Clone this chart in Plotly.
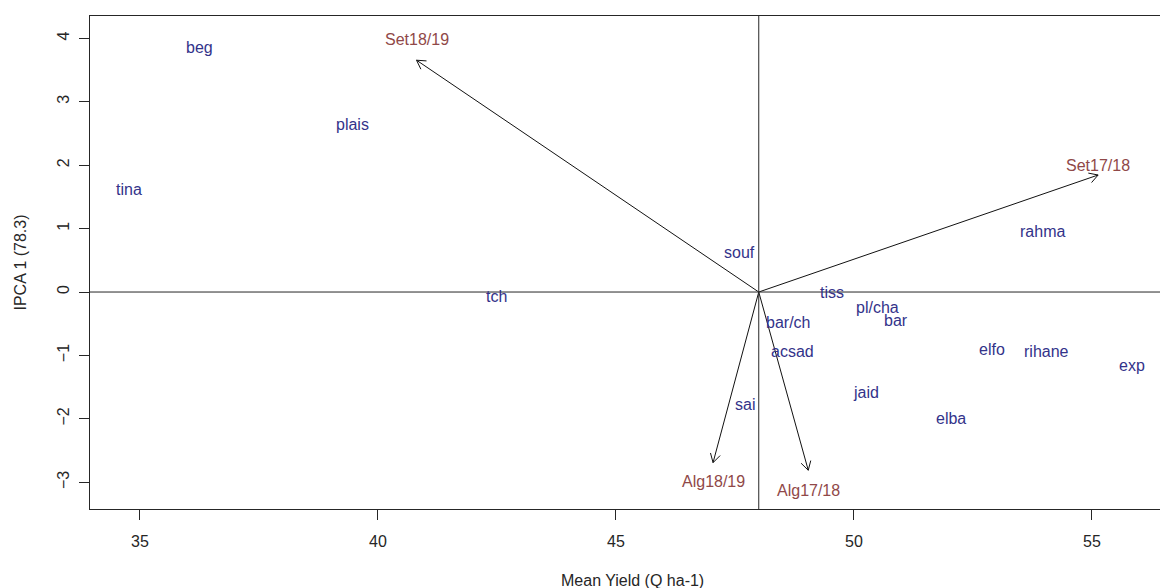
import math
import plotly.graph_objects as go

# Genotypes: mean yield (Q ha-1) and first interaction principal component score
genotypes = ["beg", "plais", "tina", "tch", "souf", "sai", "tiss", "pl/cha", "bar",
             "bar/ch", "acsad", "elfo", "rihane", "exp", "jaid", "elba", "rahma"]
geno_yield = [36.26, 39.47, 34.77, 42.49, 47.59, 47.72, 49.53, 50.49, 50.88,
              48.62, 48.71, 52.89, 54.05, 55.85, 50.25, 52.03, 53.96]
geno_ipca1 = [3.88, 2.67, 1.65, -0.04, 0.65, -1.74, 0.03, -0.22, -0.41,
              -0.45, -0.90, -0.88, -0.90, -1.13, -1.55, -1.97, 0.98]

# Environments (site/season) as vectors from the grand mean
environments = ["Set17/18", "Set18/19", "Alg17/18", "Alg18/19"]
env_yield = [55.13, 40.81, 49.04, 47.04]
env_ipca1 = [1.845, 3.655, -2.81, -2.69]

grand_mean = 48.0

x_ticks = [35, 40, 45, 50, 55]
y_ticks = [-3, -2, -1, 0, 1, 2, 3, 4]

X_RANGE = [33.95, 56.43]
Y_RANGE = [-3.421, 4.352]

W, H = 1160, 588
M_L, M_R, M_T, M_B = 90, 0, 16, 79
plot_w = W - M_L - M_R
plot_h = H - M_T - M_B
px_per_x = plot_w / (X_RANGE[1] - X_RANGE[0])
px_per_y = plot_h / (Y_RANGE[1] - Y_RANGE[0])

FONT = "Liberation Sans, Arial, sans-serif"
GENO_COLOR = "#33338a"
ENV_COLOR = "#904848"
AXIS_COLOR = "#262626"

fig = go.Figure()

# Reference lines through the grand mean and IPCA = 0
fig.add_hline(y=0, line=dict(color=AXIS_COLOR, width=1))
fig.add_vline(x=grand_mean, line=dict(color=AXIS_COLOR, width=1))

# Environment vectors with open arrowheads (10 px wings at 30 degrees)
ax, ay = [], []
head_len = 10.0
for ex, ey in zip(env_yield, env_ipca1):
    ax += [grand_mean, ex, None]
    ay += [0, ey, None]
    dx = (ex - grand_mean) * px_per_x
    dy = ey * px_per_y
    n = math.hypot(dx, dy)
    ux, uy = -dx / n, -dy / n
    for ang in (math.radians(30), -math.radians(30)):
        rx = ux * math.cos(ang) - uy * math.sin(ang)
        ry = ux * math.sin(ang) + uy * math.cos(ang)
        ax += [ex, ex + rx * head_len / px_per_x, None]
        ay += [ey, ey + ry * head_len / px_per_y, None]
fig.add_trace(go.Scatter(x=ax, y=ay, mode="lines",
                         line=dict(color="#111111", width=1),
                         hoverinfo="skip", showlegend=False))


def add_label(x, y, text, color):
    fig.add_annotation(x=x, y=y, text=text, showarrow=False,
                       xanchor="center", yanchor="middle", yshift=-2,
                       font=dict(family=FONT, size=16, color=color))


# Environment labels sit just beyond the arrow tips
for name, ex, ey in zip(environments, env_yield, env_ipca1):
    add_label(ex, ey * 1.1, name, ENV_COLOR)

# Genotype labels
for name, gx, gy in zip(genotypes, geno_yield, geno_ipca1):
    add_label(gx, gy, name, GENO_COLOR)

# Axis titles
fig.add_annotation(text="Mean Yield (Q ha-1)", xref="paper", yref="paper",
                   x=(632 - M_L) / plot_w, y=(plot_h + M_T - 580) / plot_h,
                   showarrow=False, xanchor="center", yanchor="middle",
                   font=dict(family=FONT, size=16, color=AXIS_COLOR))
fig.add_annotation(text="IPCA 1 (78.3)", xref="paper", yref="paper",
                   x=(20 - M_L) / plot_w, y=0.5, textangle=-90,
                   showarrow=False, xanchor="center", yanchor="middle",
                   font=dict(family=FONT, size=16, color=AXIS_COLOR))

fig.update_layout(
    width=W, height=H,
    margin=dict(l=M_L, r=M_R, t=M_T, b=M_B),
    paper_bgcolor="white", plot_bgcolor="white",
    font=dict(family=FONT, size=16, color=AXIS_COLOR),
    xaxis=dict(range=X_RANGE, tickvals=x_ticks, ticks="outside", ticklen=10,
               tickcolor=AXIS_COLOR, showline=True, linecolor=AXIS_COLOR,
               linewidth=1, mirror=True, showgrid=False, zeroline=False,
               ticklabelstandoff=8,
               tickfont=dict(family=FONT, size=16, color=AXIS_COLOR)),
    yaxis=dict(range=Y_RANGE, tickvals=y_ticks, ticks="outside", ticklen=10,
               tickcolor=AXIS_COLOR, showline=True, linecolor=AXIS_COLOR,
               linewidth=1, mirror=False, showgrid=False, zeroline=False,
               tickangle=-90, ticklabelstandoff=4,
               tickfont=dict(family=FONT, size=16, color=AXIS_COLOR)),
)

fig.write_html("out.html")
